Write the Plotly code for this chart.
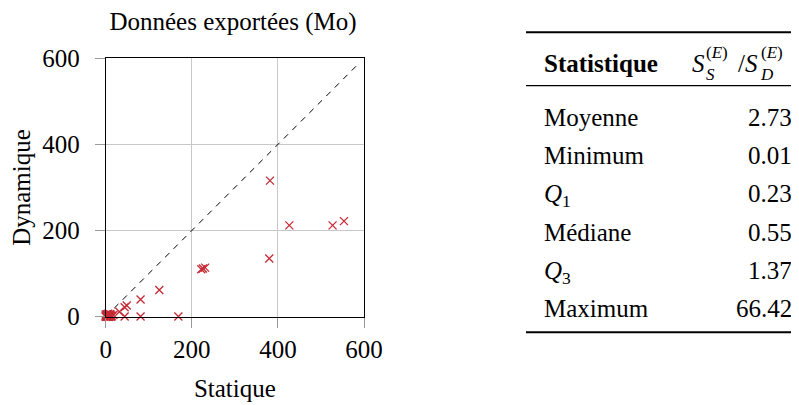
import plotly.graph_objects as go

# ---- data ----
static_mb = [381.7, 426.5, 527.0, 553.5, 380.0, 222.0, 226.0, 231.0, 124.5, 81.0, 49.0, 44.0,
             31.7, 81.0, 44.0, 168.8, 18.0,
             0, 1, 2, 3, 4, 5, 6, 7, 8, 9, 10, 11, 12, 13, 2, 4, 6, 1, 3, 8, 10, 14, 5, 0, 0]
dynamic_mb = [316.0, 212.0, 212.0, 222.0, 135.0, 110.0, 112.0, 114.0, 62.0, 40.0, 26.0, 22.0,
              11.6, 0.5, 0.5, 0.5, 4.0,
              0, 0.5, 1, 0, 2, 1, 3, 0, 4, 1, 2, 5, 0, 3, 4, 6, 7, 3, 5, 0, 6, 1, 0, 2, 5]
diag_x = [0, 590]
diag_y = [0, 590]
ticks = [0, 200, 400, 600]

stat_names = ["Moyenne", "Minimum", "<i>Q</i><sub>1</sub>", "Médiane", "<i>Q</i><sub>3</sub>", "Maximum"]
stat_values = ["2.73", "0.01", "0.23", "0.55", "1.37", "66.42"]

W, H = 799, 405
OFF = 8  # page body margin offset
FONT = "Liberation Serif, Times New Roman, serif"
FS = 25
ASC = 0.891


def px(x):
    return (x - OFF) / W


def py(y):
    return 1 - (y - OFF) / H


def tfont(size):
    return dict(family=FONT, size=size, color="black")


fig = go.Figure()
fig.add_trace(go.Scatter(x=diag_x, y=diag_y, mode="lines",
                         line=dict(color="black", width=1, dash="6px,6px"),
                         hoverinfo="skip"))
fig.add_trace(go.Scatter(x=static_mb, y=dynamic_mb, mode="markers", cliponaxis=False,
                         marker=dict(symbol="x-thin", size=8, color="#c62a35",
                                     line=dict(color="#c62a35", width=1.3))))

axis_common = dict(range=[0, 600], tickvals=ticks, showgrid=True, gridcolor="#c8c8c8",
                   gridwidth=1, zeroline=False, showline=True, linecolor="black",
                   linewidth=1, mirror=True, ticks="outside", ticklen=10, tickcolor="#999999",
                   tickwidth=1, automargin=False, tickfont=tfont(FS))

fig.update_xaxes(domain=[px(105.7), px(364)], ticklabelstandoff=0,
                 title=dict(text="Statique", font=tfont(FS), standoff=17),
                 **axis_common)
fig.update_yaxes(domain=[py(316.7), py(58.3)], ticklabelstandoff=10,
                 title=dict(text="Dynamique", font=tfont(FS), standoff=12),
                 **axis_common)

ann = []
# table header
hdr_base = 71.7
ann.append(dict(text="<b>Statistique</b>", x=px(541.7), y=py(hdr_base - ASC * FS - 1),
                xanchor="left", yanchor="top", font=tfont(FS)))
SFS = 17
pieces = [
    ("<i>S</i>", 691.0, hdr_base, FS),
    ("(<i>E</i>)<br><i>S</i>", 704.5, 57.0, SFS),
    ("/", 736.5, hdr_base, FS),
    ("<i>S</i>", 744.0, hdr_base, FS),
    ("(<i>E</i>)<br><i>D</i>", 758.5, 57.0, SFS),
]
for t, x0, base, fs in pieces:
    ann.append(dict(text=t, x=px(x0), y=py(base - ASC * fs), xanchor="left", align="left",
                    yanchor="top", borderpad=0, font=tfont(fs)))

for i, (name, val) in enumerate(zip(stat_names, stat_values)):
    base = 125.0 + i * 38.33
    ann.append(dict(text=name, x=px(541.7), y=py(base - ASC * FS - 1), xanchor="left",
                    yanchor="top", font=tfont(FS)))
    ann.append(dict(text=val, x=px(793.7), y=py(base - ASC * FS - 1), xanchor="right",
                    yanchor="top", font=tfont(FS)))

for a in ann:
    a.update(xref="paper", yref="paper", showarrow=False)

shapes = [
    dict(type="line", xref="paper", yref="paper", x0=px(526), x1=px(800), y0=py(32.3), y1=py(32.3),
         line=dict(color="black", width=2)),
    dict(type="line", xref="paper", yref="paper", x0=px(526), x1=px(800), y0=py(85.7), y1=py(85.7),
         line=dict(color="black", width=1.2)),
    dict(type="line", xref="paper", yref="paper", x0=px(526), x1=px(800), y0=py(332.3), y1=py(332.3),
         line=dict(color="black", width=2)),
]

fig.update_layout(
    width=W, height=H, margin=dict(l=0, r=0, t=0, b=0, autoexpand=False),
    paper_bgcolor="white", plot_bgcolor="white", showlegend=False,
    title=dict(text="Données exportées (Mo)", x=px(233), xanchor="center",
               y=py(21.5), yanchor="middle", yref="container",
               font=tfont(FS)),
    annotations=ann, shapes=shapes,
)

fig.write_html("out.html")
